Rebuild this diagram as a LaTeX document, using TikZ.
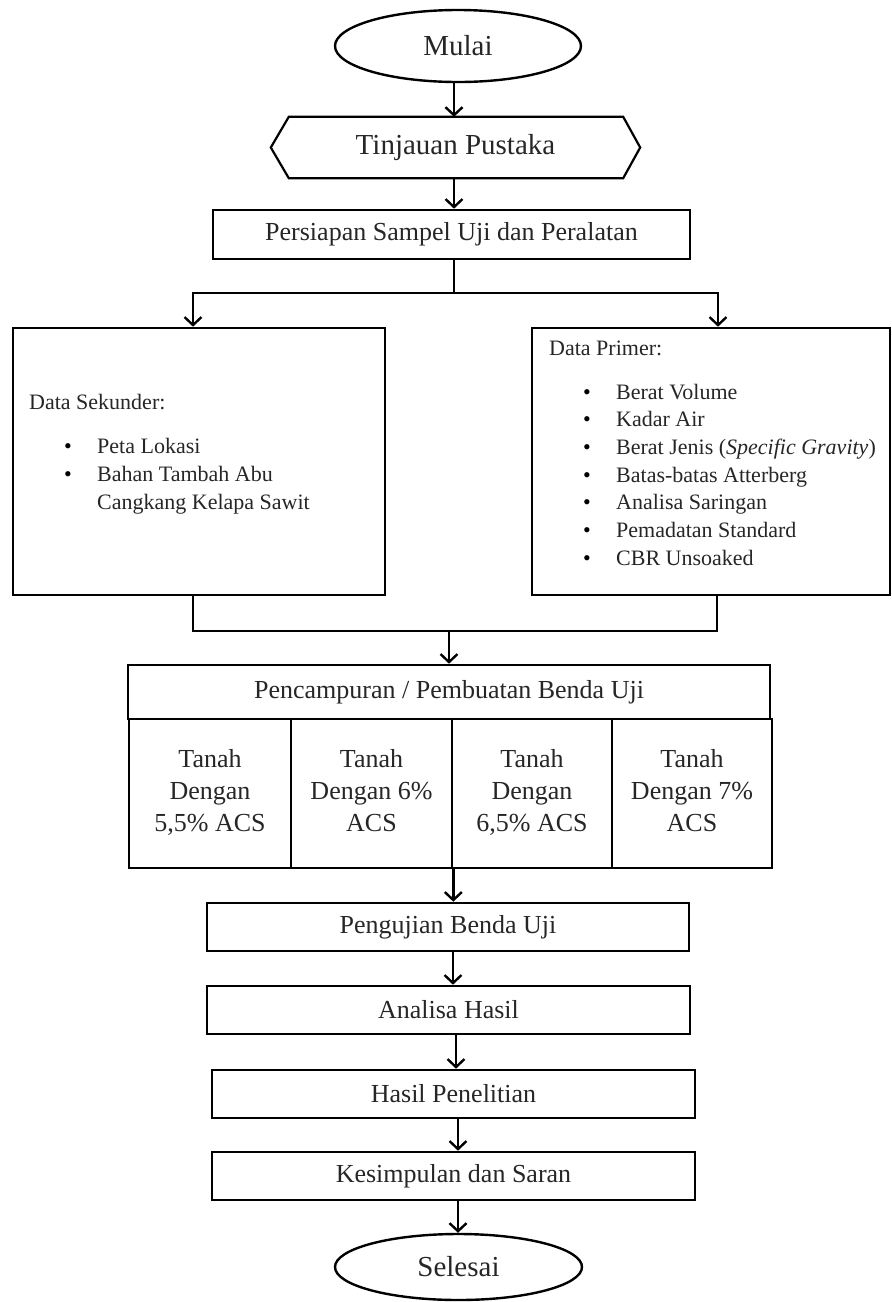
\documentclass[tikz,border=0pt]{standalone}
\usepackage{fontspec}
\setmainfont{Liberation Serif}
\usetikzlibrary{arrows.meta,shapes.geometric,calc}
\begin{document}
\begin{tikzpicture}[x=1pt,y=-1pt,
  box/.style={draw, line width=2.6pt, inner sep=0pt, rectangle},
  term/.style={draw, ellipse, line width=2.4pt, inner sep=0pt, font=\fontsize{29}{34}\selectfont, text=black!85},
  lbl/.style={font=\fontsize{26}{32}\selectfont, text=black!85},
  item/.style={anchor=base west, inner sep=0pt, font=\fontsize{22}{27}\selectfont, text=black!85},
  dot/.style={anchor=base, inner sep=0pt, font=\fontsize{22}{27}\selectfont},
  arr/.style={line width=2.4pt, -{Straight Barb[length=8pt,width=17pt,line width=2.4pt]}},
  ln/.style={line width=2.2pt},
  cell/.style={box, minimum height=149pt, align=center, font=\fontsize{26}{32}\selectfont, text=black!85}
]
\useasboundingbox (0,0) rectangle (892,1302);

% terminals and process boxes
\node[term, minimum width=246pt, minimum height=72pt] (mulai) at (458,46) {Mulai};
\node[inner sep=0pt, minimum width=369pt, minimum height=61pt, font=\fontsize{29}{34}\selectfont, text=black!85] (tinj) at (455.5,147.5) {Tinjauan Pustaka};
\draw[line width=2.2pt, line join=miter] (tinj.west) -- ([xshift=18pt]tinj.north west) -- ([xshift=-17pt]tinj.north east) -- (tinj.east) -- ([xshift=-17pt]tinj.south east) -- ([xshift=18pt]tinj.south west) -- cycle;
\node[box, lbl, minimum width=477pt, minimum height=49pt] (pers) at (451.5,234.5) {Persiapan Sampel Uji dan Peralatan};

\node[box, minimum width=372pt, minimum height=267pt] (sek) at (199,461.5) {};
\node[box, minimum width=358pt, minimum height=267pt] (prim) at (711,461.5) {};

% Data Sekunder
\node[item] (sekh) at (29,409) {Data Sekunder:};
\node[dot] (sb1) at (68,453) {\textbullet};
\node[item] (s1) at (97,453) {Peta Lokasi};
\node[dot] (sb2) at (68,481) {\textbullet};
\node[item] (s2) at (97,481) {Bahan Tambah Abu};
\node[item] (s3) at (97,509) {Cangkang Kelapa Sawit};

% Data Primer
\node[item] (primh) at (549,355) {Data Primer:};
\node[dot] (pb1) at (587,399) {\textbullet};
\node[item] (p1) at (616,399) {Berat Volume};
\node[dot] (pb2) at (587,426.7) {\textbullet};
\node[item] (p2) at (616,426.7) {Kadar Air};
\node[dot] (pb3) at (587,454.4) {\textbullet};
\node[item] (p3) at (616,454.4) {Berat Jenis (\textit{Specific Gravity})};
\node[dot] (pb4) at (587,482.1) {\textbullet};
\node[item] (p4) at (616,482.1) {Batas-batas Atterberg};
\node[dot] (pb5) at (587,509.8) {\textbullet};
\node[item] (p5) at (616,509.8) {Analisa Saringan};
\node[dot] (pb6) at (587,537.5) {\textbullet};
\node[item] (p6) at (616,537.5) {Pemadatan Standard};
\node[dot] (pb7) at (587,565.2) {\textbullet};
\node[item] (p7) at (616,565.2) {CBR Unsoaked};

% mixing
\node[box, lbl, minimum width=642pt, minimum height=54pt] (penc) at (449,692) {Pencampuran / Pembuatan Benda Uji};
\node[cell, minimum width=162pt] (c1) at (210,793.5) {\strut Tanah\\Dengan\\5,5\% ACS\strut};
\node[cell, minimum width=161pt] (c2) at (371.5,793.5) {\strut Tanah\\Dengan 6\%\\ACS\strut};
\node[cell, minimum width=160pt] (c3) at (532,793.5) {\strut Tanah\\Dengan\\6,5\% ACS\strut};
\node[cell, minimum width=160pt] (c4) at (692,793.5) {\strut Tanah\\Dengan 7\%\\ACS\strut};

\node[box, lbl, minimum width=482pt, minimum height=48pt] (peng) at (448,927) {Pengujian Benda Uji};
\node[box, lbl, minimum width=483pt, minimum height=48pt] (anal) at (448.5,1010) {Analisa Hasil};
\node[box, lbl, minimum width=483pt, minimum height=48pt] (hasil) at (453.5,1094) {Hasil Penelitian};
\node[box, lbl, minimum width=483pt, minimum height=48pt] (kes) at (453.5,1176) {Kesimpulan dan Saran};
\node[term, minimum width=247pt, minimum height=66pt] (sel) at (458.5,1267) {Selesai};

% connectors
\coordinate (ax0) at (454,0);
\draw[arr] (ax0 |- mulai.south) -- (ax0 |- tinj.north);
\draw[arr] (ax0 |- tinj.south) -- (ax0 |- pers.north);

\coordinate (split) at (454,293);
\coordinate (sl) at (193,293);
\coordinate (sr) at (718,293);
\draw[line width=1.6pt] (split |- pers.south) -- (split);
\draw[ln] ([xshift=-1pt]sl) -- ([xshift=1pt]sr);
\draw[arr] (sl) -- (sl |- sek.north);
\draw[arr] (sr) -- (sr |- prim.north);

\coordinate (jl) at (193,631);
\coordinate (jr) at (717,631);
\coordinate (jm) at (449,631);
\draw[ln] (jl |- sek.south) -- (jl) -- (jr) -- (jr |- prim.south);
\draw[arr] (jm) -- (jm |- penc.north);

\draw[arr] (c2.south east) -- (c2.south east |- peng.north);

\coordinate (ax1) at (453,0);
\coordinate (ax2) at (456,0);
\coordinate (ax3) at (458,0);
\draw[arr] (ax1 |- peng.south) -- (ax1 |- anal.north);
\draw[arr] (ax2 |- anal.south) -- (ax2 |- hasil.north);
\draw[arr] (ax3 |- hasil.south) -- (ax3 |- kes.north);
\draw[arr] (ax3 |- kes.south) -- (ax3 |- sel.north);
\end{tikzpicture}
\end{document}
